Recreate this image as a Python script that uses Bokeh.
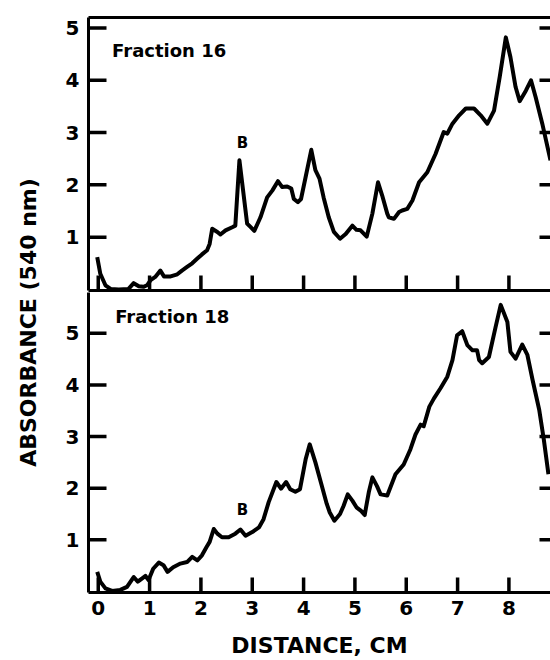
import numpy as np
from bokeh.plotting import figure
from bokeh.layouts import row, column
from bokeh.models import Range1d, LinearAxis, FixedTicker, Label
from bokeh.embed import file_html
from bokeh.resources import INLINE

# ---------------- data ----------------
dist_16 = [-0.02, 0.04, 0.14, 0.24, 0.40, 0.59, 0.69, 0.79, 0.88, 0.95, 1.02, 1.11, 1.21,
           1.28, 1.41, 1.54, 1.63, 1.73, 1.83, 1.93, 2.02, 2.12, 2.17, 2.22, 2.32, 2.38,
           2.48, 2.61, 2.67, 2.75, 2.90, 2.96, 3.04, 3.16, 3.29, 3.39, 3.50, 3.58, 3.68,
           3.76, 3.81, 3.89, 3.95, 4.04, 4.15, 4.23, 4.31, 4.39, 4.49, 4.59, 4.71, 4.82,
           4.95, 5.03, 5.11, 5.23, 5.34, 5.45, 5.53, 5.63, 5.66, 5.76, 5.86, 5.92, 6.02,
           6.12, 6.25, 6.41, 6.57, 6.73, 6.80, 6.90, 7.03, 7.16, 7.32, 7.45, 7.58, 7.71,
           7.82, 7.94, 8.03, 8.13, 8.21, 8.33, 8.43, 8.52, 8.65, 8.81]
abs_16 = [0.62, 0.30, 0.08, 0.01, 0.00, 0.01, 0.12, 0.06, 0.05, 0.08, 0.18, 0.24, 0.36,
          0.25, 0.25, 0.29, 0.36, 0.43, 0.50, 0.59, 0.67, 0.75, 0.87, 1.16, 1.10, 1.05,
          1.13, 1.19, 1.22, 2.47, 1.26, 1.20, 1.12, 1.38, 1.76, 1.89, 2.07, 1.96, 1.97,
          1.93, 1.73, 1.67, 1.73, 2.15, 2.67, 2.28, 2.12, 1.76, 1.38, 1.10, 0.97, 1.06,
          1.22, 1.14, 1.13, 1.01, 1.45, 2.05, 1.80, 1.45, 1.38, 1.35, 1.48, 1.51, 1.54,
          1.70, 2.05, 2.24, 2.59, 3.01, 2.98, 3.17, 3.33, 3.46, 3.46, 3.33, 3.17, 3.42,
          4.06, 4.82, 4.44, 3.87, 3.60, 3.80, 4.00, 3.68, 3.17, 2.47]

dist_18 = [-0.02, 0.04, 0.14, 0.27, 0.43, 0.56, 0.69, 0.77, 0.85, 0.92, 0.98, 1.07, 1.18,
           1.27, 1.35, 1.46, 1.60, 1.73, 1.83, 1.93, 2.02, 2.11, 2.17, 2.25, 2.32, 2.41,
           2.54, 2.67, 2.77, 2.87, 3.00, 3.13, 3.22, 3.32, 3.47, 3.56, 3.66, 3.74, 3.84,
           3.93, 4.04, 4.12, 4.23, 4.34, 4.45, 4.51, 4.60, 4.71, 4.78, 4.86, 4.95, 5.03,
           5.12, 5.19, 5.27, 5.34, 5.43, 5.50, 5.63, 5.79, 5.95, 6.08, 6.18, 6.28, 6.34,
           6.45, 6.54, 6.67, 6.80, 6.90, 6.99, 7.09, 7.19, 7.29, 7.38, 7.42, 7.48, 7.61,
           7.74, 7.84, 7.97, 8.03, 8.13, 8.26, 8.36, 8.46, 8.59, 8.68, 8.77]
abs_18 = [0.38, 0.19, 0.06, 0.01, 0.03, 0.09, 0.28, 0.19, 0.25, 0.30, 0.22, 0.44, 0.56,
          0.51, 0.38, 0.47, 0.54, 0.57, 0.67, 0.60, 0.70, 0.86, 0.96, 1.21, 1.12, 1.05,
          1.05, 1.12, 1.20, 1.08, 1.15, 1.24, 1.40, 1.73, 2.12, 1.99, 2.12, 1.98, 1.93,
          1.98, 2.56, 2.85, 2.50, 2.10, 1.70, 1.53, 1.37, 1.50, 1.66, 1.88, 1.76, 1.63,
          1.56, 1.48, 1.92, 2.21, 2.04, 1.88, 1.86, 2.27, 2.46, 2.75, 3.04, 3.23, 3.20,
          3.58, 3.74, 3.94, 4.16, 4.48, 4.96, 5.04, 4.77, 4.67, 4.67, 4.48, 4.42, 4.54,
          5.12, 5.55, 5.22, 4.64, 4.51, 4.78, 4.58, 4.10, 3.52, 2.94, 2.27]

x_ticks = [0, 1, 2, 3, 4, 5, 6, 7, 8]
y_ticks = [1, 2, 3, 4, 5]
panel_names = ["Fraction 16", "Fraction 18"]
peak_label = "B"
x_title = "DISTANCE, CM"
y_title = "ABSORBANCE (540 nm)"

FONT = "DejaVu Sans"
X_RANGE = (-0.19, 8.81)
PANEL_W = 492
BORDER_L = 30
LW = 3
TICK_W = 3.5
CURVE_W = 4
YTICK_PX = 18      # length of the inward left ticks
XTICK_PX = 15      # length of the inward x ticks
RTICK_PX = 11      # visible length of the right-hand ticks


def make_panel(height, y_rng, mb_top, mb_bottom, with_x_labels):
    p = figure(width=PANEL_W, height=height, x_range=Range1d(*X_RANGE), y_range=Range1d(*y_rng),
               output_backend="svg", toolbar_location=None,
               min_border_left=BORDER_L, min_border_right=0, min_border_top=mb_top,
               min_border_bottom=mb_bottom, outline_line_color=None,
               background_fill_color="white", border_fill_color="white")
    p.grid.visible = False

    frame_w = PANEL_W - BORDER_L
    frame_h = height - mb_top - mb_bottom
    dx = (X_RANGE[1] - X_RANGE[0]) / frame_w
    dy = (y_rng[1] - y_rng[0]) / frame_h

    ya = p.yaxis[0]
    ya.ticker = FixedTicker(ticks=y_ticks)
    ya.major_tick_in = 0
    ya.major_tick_out = 0
    ya.minor_tick_line_color = None
    ya.axis_line_width = LW
    ya.axis_line_color = "black"
    ya.major_label_text_font = FONT
    ya.major_label_text_font_style = "bold"
    ya.major_label_text_font_size = "20px"
    ya.major_label_text_color = "black"
    ya.major_label_standoff = 9

    xa = p.xaxis[0]
    xa.axis_line_width = LW
    xa.axis_line_color = "black"
    xa.minor_tick_line_color = None
    xa.major_tick_in = 0
    xa.major_tick_out = 0
    if with_x_labels:
        xa.ticker = FixedTicker(ticks=x_ticks)
        xa.major_label_text_font = FONT
        xa.major_label_text_font_style = "bold"
        xa.major_label_text_font_size = "20px"
        xa.major_label_text_color = "black"
        xa.major_label_standoff = 8
        xa.axis_label = x_title
        xa.axis_label_text_font = FONT
        xa.axis_label_text_font_style = "bold"
        xa.axis_label_text_font_size = "22px"
        xa.axis_label_text_color = "black"
        xa.axis_label_standoff = 15
    else:
        xa.ticker = FixedTicker(ticks=[])

    # all tick marks drawn as glyph segments (inward), starting outside the frame edge
    x_edge = X_RANGE[0] - 2 * dx
    y_edge = y_rng[0] - 2 * dy
    tick_xs = ([[x_edge, X_RANGE[0] + YTICK_PX * dx] for _ in y_ticks] +
               [[X_RANGE[1] - RTICK_PX * dx, X_RANGE[1] + 2 * dx] for _ in y_ticks] +
               [[float(t), float(t)] for t in x_ticks])
    tick_ys = ([[float(t), float(t)] for t in y_ticks] +
               [[float(t), float(t)] for t in y_ticks] +
               [[y_edge, y_rng[0] + XTICK_PX * dy] for _ in x_ticks])
    p.multi_line(xs=tick_xs, ys=tick_ys, line_color="#000000", line_width=TICK_W,
                 line_alpha=1.0)
    return p


top = make_panel(292, (-0.02, 5.2), 17, 2, False)
above = LinearAxis(ticker=FixedTicker(ticks=[]))
above.axis_line_width = LW
above.axis_line_color = "black"
above.minor_tick_line_color = None
top.add_layout(above, "above")

top.line(dist_16, abs_16, line_color="black", line_width=CURVE_W, line_join="round")
top.add_layout(Label(x=0.27, y=4.57, text=panel_names[0], text_font=FONT, text_font_style="bold",
                     text_font_size="18px", text_color="black", text_align="left",
                     text_baseline="middle"))
top.add_layout(Label(x=2.81, y=2.80, text=peak_label, text_font=FONT, text_font_style="bold",
                     text_font_size="15px", text_color="black", text_align="center",
                     text_baseline="middle"))

bot = make_panel(368, (-0.02, 5.79), 0, 66, True)
bot.line(dist_18, abs_18, line_color="black", line_width=CURVE_W, line_join="round")
bot.add_layout(Label(x=0.33, y=5.32, text=panel_names[1], text_font=FONT, text_font_style="bold",
                     text_font_size="18px", text_color="black", text_align="left",
                     text_baseline="middle"))
bot.add_layout(Label(x=2.81, y=1.57, text=peak_label, text_font=FONT, text_font_style="bold",
                     text_font_size="15px", text_color="black", text_align="center",
                     text_baseline="middle"))

ttl = figure(width=58, height=660, x_range=Range1d(0, 58), y_range=Range1d(0, 660),
             output_backend="svg", toolbar_location=None, min_border=0,
             outline_line_color=None, x_axis_location=None, y_axis_location=None)
ttl.grid.visible = False
ttl.add_layout(Label(x=28, y=338, text=y_title, angle=np.pi / 2, text_align="center",
                     text_baseline="middle", text_font=FONT, text_font_style="bold",
                     text_font_size="22px", text_color="black"))

layout = row(ttl, column(top, bot))
open("out.html", "w").write(file_html(layout, INLINE))
